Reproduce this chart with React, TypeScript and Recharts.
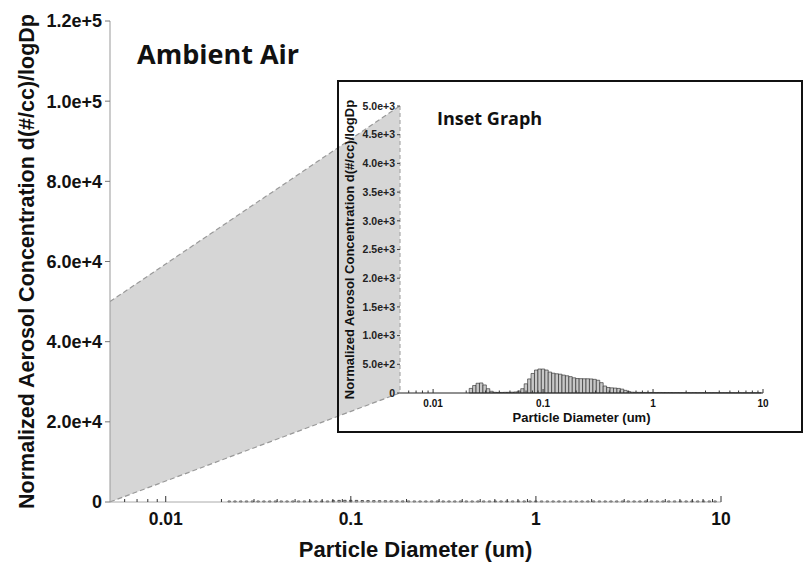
import { ComposedChart, Bar, Area, XAxis, YAxis, Label } from 'recharts';

// bin mid-points (um), 32 channels per decade
const DIAMETERS = [
  0.02207, 0.02371, 0.02548, 0.02738, 0.02943, 0.03162, 0.03398, 0.03652, 0.03924, 0.04217,
  0.04532, 0.0487, 0.05233, 0.05623, 0.06043, 0.06494, 0.06979, 0.07499, 0.08059, 0.0866,
  0.09306, 0.1, 0.1075, 0.1155, 0.1241, 0.1334, 0.1433, 0.154, 0.1655, 0.1778,
  0.1911, 0.2054, 0.2207, 0.2371, 0.2548, 0.2738, 0.2943, 0.3162, 0.3398, 0.3652,
  0.3924, 0.4217, 0.4532, 0.487, 0.5233, 0.5623, 0.6043, 0.6494, 0.6979, 0.7499,
  0.8059, 0.866, 0.9306, 1.0, 1.075, 1.155, 1.241, 1.334, 1.433, 1.54,
  1.655, 1.778, 1.911, 2.054, 2.207, 2.371, 2.548, 2.738, 2.943, 3.162,
  3.398, 3.652, 3.924, 4.217, 4.532, 4.87, 5.233, 5.623, 6.043, 6.494,
  6.979, 7.499, 8.059, 8.66, 9.306,
];

// d(#/cc)/logDp
const CONCENTRATION = [
  80, 130, 170, 175, 140, 75, 30, 12, 10, 10,
  12, 12, 14, 18, 35, 75, 160, 245, 340, 400,
  418, 418, 400, 365, 345, 335, 328, 312, 300, 285,
  265, 252, 250, 248, 248, 245, 238, 222, 180, 122,
  96, 90, 86, 80, 68, 46, 25, 14, 12, 11,
  10, 10, 9, 9, 8, 9, 8, 8, 8, 7,
  8, 7, 7, 7, 6, 7, 6, 6, 6, 6,
  5, 6, 5, 5, 5, 5, 5, 4, 5, 4,
  4, 4, 4, 4, 4,
];

const MAIN_Y_TICKS = [0, 20000, 40000, 60000, 80000, 100000, 120000];
const INSET_Y_TICKS = [0, 500, 1000, 1500, 2000, 2500, 3000, 3500, 4000, 4500, 5000];
const MAJOR_X_TICKS = [0.01, 0.1, 1, 10];
const MINOR_X_TICKS = [
  0.006, 0.007, 0.008, 0.009,
  0.02, 0.03, 0.04, 0.05, 0.06, 0.07, 0.08, 0.09,
  0.2, 0.3, 0.4, 0.5, 0.6, 0.7, 0.8, 0.9,
  2, 3, 4, 5, 6, 7, 8, 9,
];

// zoom band joining the main plot to the inset axis
const ZOOM_D = [0.005, 0.184];
const ZOOM_LOW = [0, 27200];
const ZOOM_HIGH = [50000, 98800];

const X_DOMAIN = [0.005, 10];
const X_TICKS = [...MINOR_X_TICKS, ...MAJOR_X_TICKS].sort((a, b) => a - b);

const sizeData = DIAMETERS.map((d, i) => ({ d, conc: CONCENTRATION[i] }));
const zoomData = ZOOM_D.map((d, i) => ({ d, band: [ZOOM_LOW[i], ZOOM_HIGH[i]] }));

const FONT = '"Liberation Sans", Arial, sans-serif';

const sci = (v: number) => (v === 0 ? '0' : v.toExponential(1));

const LogTick = (props: any) => {
  const { x, y, payload, fontSize, majorLen, minorLen, labelDy } = props;
  const isMajor = MAJOR_X_TICKS.includes(payload.value);
  return (
    <g>
      <line x1={x} x2={x} y1={y} y2={y - (isMajor ? majorLen : minorLen)} stroke="#333" strokeWidth={1} />
      {isMajor && (
        <text x={x} y={y + labelDy} textAnchor="middle" fontSize={fontSize} fontWeight="bold" fill="#111" fontFamily={FONT}>
          {String(payload.value)}
        </text>
      )}
    </g>
  );
};

const MainChart = () => (
  <ComposedChart width={805} height={565} data={sizeData} margin={{ top: 21, right: 84, bottom: 0, left: 0 }}>
    <XAxis
      dataKey="d"
      type="number"
      scale="log"
      domain={X_DOMAIN}
      allowDataOverflow
      ticks={X_TICKS}
      interval={0}
      height={63}
      tickSize={0}
      tickMargin={0}
      axisLine={{ stroke: '#aaa' }}
      tick={<LogTick fontSize={17.5} majorLen={6} minorLen={3} labelDy={23} />}
    >
      <Label value="Particle Diameter (um)" position="insideBottom" offset={8} style={{ fontSize: 22, fontWeight: 'bold', fill: '#111', fontFamily: FONT }} />
    </XAxis>
    <YAxis
      type="number"
      domain={[0, 120000]}
      ticks={MAIN_Y_TICKS}
      tickFormatter={sci}
      width={110}
      tickSize={5}
      tickMargin={3}
      axisLine={{ stroke: '#999' }}
      tickLine={{ stroke: '#777' }}
      tick={{ fontSize: 18, fontWeight: 'bold', fill: '#111', fontFamily: FONT }}
    >
      <Label
        value="Normalized Aerosol Concentration d(#/cc)/logDp"
        angle={-90}
        position="insideLeft"
        offset={26}
        style={{ textAnchor: 'middle', fontSize: 21.5, fontWeight: 'bold', fill: '#111', fontFamily: FONT }}
      />
    </YAxis>
    <Area
      data={zoomData}
      dataKey="band"
      type="linear"
      fill="#d6d6d6"
      fillOpacity={1}
      stroke="#999"
      strokeDasharray="5 3"
      strokeWidth={1.2}
      isAnimationActive={false}
      dot={false}
      activeDot={false}
    />
    <Bar dataKey="conc" barSize={5.8} minPointSize={1} fill="#c4c4c4" stroke="#333" strokeWidth={0.8} isAnimationActive={false} />
  </ComposedChart>
);

const InsetChart = () => (
  <ComposedChart width={464} height={351} data={sizeData} margin={{ top: 25, right: 39, bottom: 0, left: 0 }}>
    <XAxis
      dataKey="d"
      type="number"
      scale="log"
      domain={X_DOMAIN}
      allowDataOverflow
      ticks={X_TICKS}
      interval={0}
      height={39}
      tickSize={0}
      tickMargin={0}
      axisLine={{ stroke: '#222', strokeWidth: 1.2 }}
      tick={<LogTick fontSize={10} majorLen={4} minorLen={2.5} labelDy={14} />}
    >
      <Label value="Particle Diameter (um)" position="insideBottom" offset={10} style={{ fontSize: 13, fontWeight: 'bold', fill: '#111', fontFamily: FONT }} />
    </XAxis>
    <YAxis
      type="number"
      domain={[0, 5000]}
      ticks={INSET_Y_TICKS}
      tickFormatter={sci}
      width={62}
      tickSize={3}
      tickMargin={2}
      axisLine={{ stroke: '#999', strokeDasharray: '4 3' }}
      tickLine={{ stroke: '#444' }}
      tick={{ fontSize: 10.5, fontWeight: 'bold', fill: '#222', fontFamily: FONT }}
    >
      <Label
        value="Normalized Aerosol Concentration d(#/cc)/logDp"
        angle={-90}
        position="insideLeft"
        offset={11}
        style={{ textAnchor: 'middle', fontSize: 13, fontWeight: 'bold', fill: '#111', fontFamily: FONT }}
      />
    </YAxis>
    <Bar dataKey="conc" barSize={3.4} fill="#c8c8c8" stroke="#222" strokeWidth={0.6} isAnimationActive={false} />
  </ComposedChart>
);

export default function App() {
  return (
    <div style={{ position: 'absolute', left: 0, top: 0, width: 805, height: 565, background: '#fff', fontFamily: FONT }}>
      <div style={{ position: 'absolute', left: 0, top: 0 }}>
        <MainChart />
      </div>
      <div style={{ position: 'absolute', left: 338, top: 81 }}>
        <InsetChart />
      </div>
      <svg width={805} height={565} style={{ position: 'absolute', left: 0, top: 0, pointerEvents: 'none' }}>
        <rect x={338} y={81} width={464} height={351} fill="none" stroke="#111" strokeWidth={2} />
        <text x={137} y={64} fontSize={27} fontWeight="bold" fill="#111" fontFamily='"Open Sans", sans-serif'>
          Ambient Air
        </text>
        <text x={437} y={125} fontSize={18} fontWeight="bold" fill="#111" fontFamily='"Open Sans", sans-serif'>
          Inset Graph
        </text>
      </svg>
    </div>
  );
}
